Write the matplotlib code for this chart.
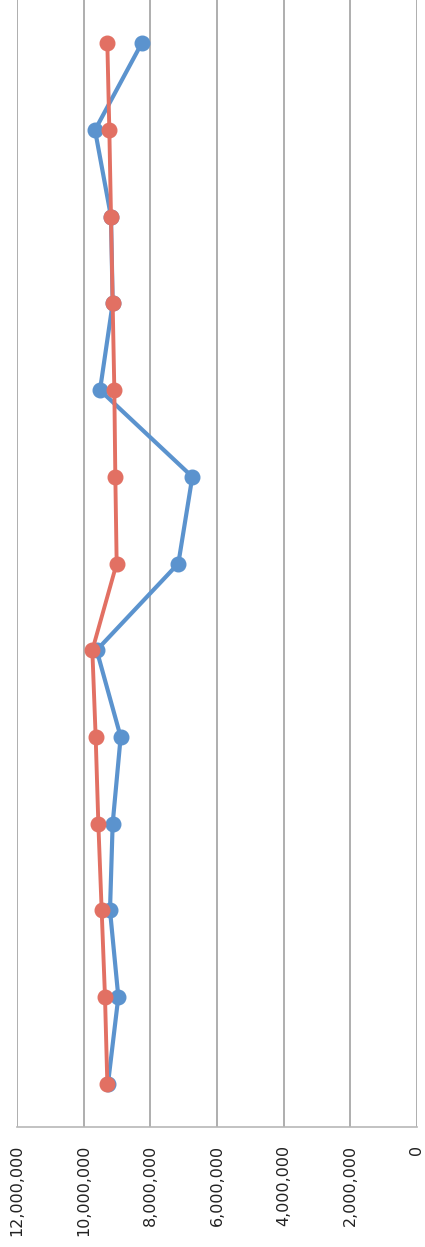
import numpy as np
import matplotlib
matplotlib.use('Agg')
import matplotlib.pyplot as plt
from matplotlib.ticker import FuncFormatter

# scanned chart, turned on its side: categories run bottom -> top,
# values run right (0) -> left (12,000,000)
categories = np.arange(13)
blue_vals = [9.27e6, 8.96e6, 9.21e6, 9.13e6, 8.89e6, 9.61e6, 7.16e6,
             6.74e6, 9.51e6, 9.13e6, 9.18e6, 9.66e6, 8.26e6]
red_vals = [9.29e6, 9.36e6, 9.46e6, 9.56e6, 9.64e6, 9.74e6, 9.01e6,
            9.05e6, 9.08e6, 9.13e6, 9.18e6, 9.23e6, 9.29e6]
value_ticks = [12e6, 10e6, 8e6, 6e6, 4e6, 2e6, 0]

blue = '#5B93CE'
red = '#E27063'

fig = plt.figure(figsize=(4.25, 12.47), dpi=100)
ax = fig.add_axes([17/425, 120/1247, 400/425, 1127/1247])

ax.plot(blue_vals, categories, color=blue, lw=3.0, marker='o', ms=10.5,
        solid_capstyle='round', zorder=3)
ax.plot(red_vals, categories, color=red, lw=2.8, marker='o', ms=10.5,
        solid_capstyle='round', zorder=4)

ax.set_xlim(12e6, 0)
ax.set_ylim(-0.5, 12.5)
ax.set_xticks(value_ticks)
ax.xaxis.set_major_formatter(FuncFormatter(lambda v, p: f'{int(v):,}'))
ax.set_yticks([])
ax.grid(axis='x', color='#a8a8a8', lw=1.3)
ax.set_axisbelow(True)

for s in ['top', 'left', 'right']:
    ax.spines[s].set_visible(False)
ax.spines['bottom'].set_color('#b8b8b8')
ax.spines['bottom'].set_linewidth(1.2)

ax.tick_params(axis='x', length=0, pad=13, labelsize=11.5, labelcolor='#222222')
for lab in ax.get_xticklabels():
    lab.set_rotation(90)
    lab.set_va('top')
    lab.set_ha('center')

fig.savefig('out.png', dpi=100)
